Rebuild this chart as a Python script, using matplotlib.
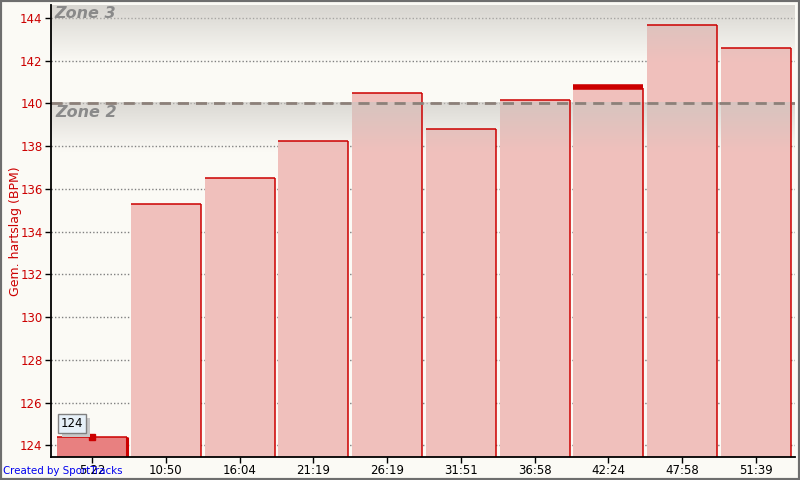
import numpy as np
import matplotlib
matplotlib.use("Agg")
import matplotlib.pyplot as plt
import matplotlib.patheffects as pe
from matplotlib.patches import Rectangle

# average heart rate per lap
laps = ["5:22", "10:50", "16:04", "21:19", "26:19", "31:51", "36:58", "42:24", "47:58", "51:39"]
bpm = [124.4, 135.3, 136.5, 138.25, 140.5, 138.8, 140.15, 140.7, 143.65, 142.6]
yticks = [124, 126, 128, 130, 132, 134, 136, 138, 140, 142, 144]
zone_bounds = [140]
zone_names = ["Zone 3", "Zone 2"]

RED = "#cc0000"
BG = "#fbfaf5"
FILL = "#f0c0bc"

fig = plt.figure(figsize=(8, 4.8), dpi=100, facecolor=BG)
ax = fig.add_axes([51 / 800, 23 / 480, 744 / 800, 452 / 480], facecolor=BG)

x = np.arange(len(laps))
w = 0.95
ylo, yhi = 123.45, 144.6

fills = [FILL] * len(laps)
fills[0] = "#e88080"
ax.bar(x, [v - ylo for v in bpm], bottom=ylo, width=w, color=fills, linewidth=0, zorder=2)
# red top and right edges
ax.hlines(bpm, x - w / 2, x + w / 2, colors=RED, linewidth=1.1, zorder=4)
ax.vlines(x + w / 2, ylo, bpm, colors=RED, linewidth=1.1, zorder=4)
ax.vlines(x[0] + w / 2, ylo, bpm[0], colors=RED, linewidth=2.2, zorder=4)
ax.hlines(bpm[7] + 0.05, x[7] - w / 2, x[7] + w / 2, colors=RED, linewidth=4, zorder=4)

# zone shading (gradient overlays)
def gradient(top, bottom, amax):
    n = 100
    a = np.linspace(amax, 0, n)[:, None]
    img = np.zeros((n, 2, 4))
    img[..., 0] = 0.79
    img[..., 1] = 0.78
    img[..., 2] = 0.76
    img[..., 3] = a
    ax.imshow(img, extent=[-0.6, 9.6, bottom, top], aspect="auto", zorder=3,
              interpolation="bilinear")

gradient(yhi, 141.9, 0.7)
gradient(zone_bounds[0], 137.7, 0.64)

ax.axhline(zone_bounds[0], color="#8c8079", linewidth=2, dashes=(4, 2.5), zorder=5)
ax.text(0.005, 0.997, zone_names[0], transform=ax.transAxes, ha="left", va="top",
        fontsize=11.5, fontweight="bold", fontstyle="italic", color="#8a8a8a", zorder=6)
ax.text(-0.5, zone_bounds[0] - 0.1, zone_names[1], ha="left", va="top",
        fontsize=11.5, fontweight="bold", fontstyle="italic", color="#8a8a8a", zorder=6)

ax.set_xlim(-0.556, 9.53)
ax.set_ylim(ylo, yhi)
ax.set_yticks(yticks)
ax.set_xticks(x)
ax.set_xticklabels(laps)
ax.grid(axis="y", color="#808080", linestyle=(0, (1, 1.5)), linewidth=1, zorder=1)
ax.set_axisbelow(True)
ax.tick_params(axis="y", colors="black", labelcolor=RED, labelsize=8.5, length=4, width=1, pad=2)
ax.tick_params(axis="x", colors="black", labelsize=8.5, length=4, width=1, pad=1)
for s in ["top", "right"]:
    ax.spines[s].set_visible(False)
for s in ["left", "bottom"]:
    ax.spines[s].set_linewidth(1.3)
    ax.spines[s].set_zorder(7)
ax.set_ylabel("Gem. hartslag (BPM)", color=RED, fontsize=9)
ax.yaxis.set_label_coords(-0.039, 0.5)

# selected lap marker and value box (with shadow)
ax.plot(x[0], bpm[0], marker="s", color=RED, markersize=4.5, zorder=8)
box = ax.text(x[0] - 0.27, bpm[0] + 0.62, str(int(bpm[0])), ha="center", va="center",
              fontsize=8.5, zorder=9,
              bbox=dict(boxstyle="square,pad=0.25", facecolor="#e6f0f8", edgecolor="#808080", linewidth=1))
box.get_bbox_patch().set_path_effects([
    pe.SimplePatchShadow(offset=(3, -3), shadow_rgbFace="#c8c8c8", alpha=1), pe.Normal()])

fig.text(3 / 800, 1 - 471 / 480, "Created by SportTracks", color="#0000ee", fontsize=7.4,
         ha="left", va="center")
fig.patches.append(Rectangle((0, 0), 1, 1, transform=fig.transFigure, fill=False,
                             edgecolor="#6e6e6e", linewidth=3))

fig.savefig("out.png", dpi=100, facecolor=BG)
